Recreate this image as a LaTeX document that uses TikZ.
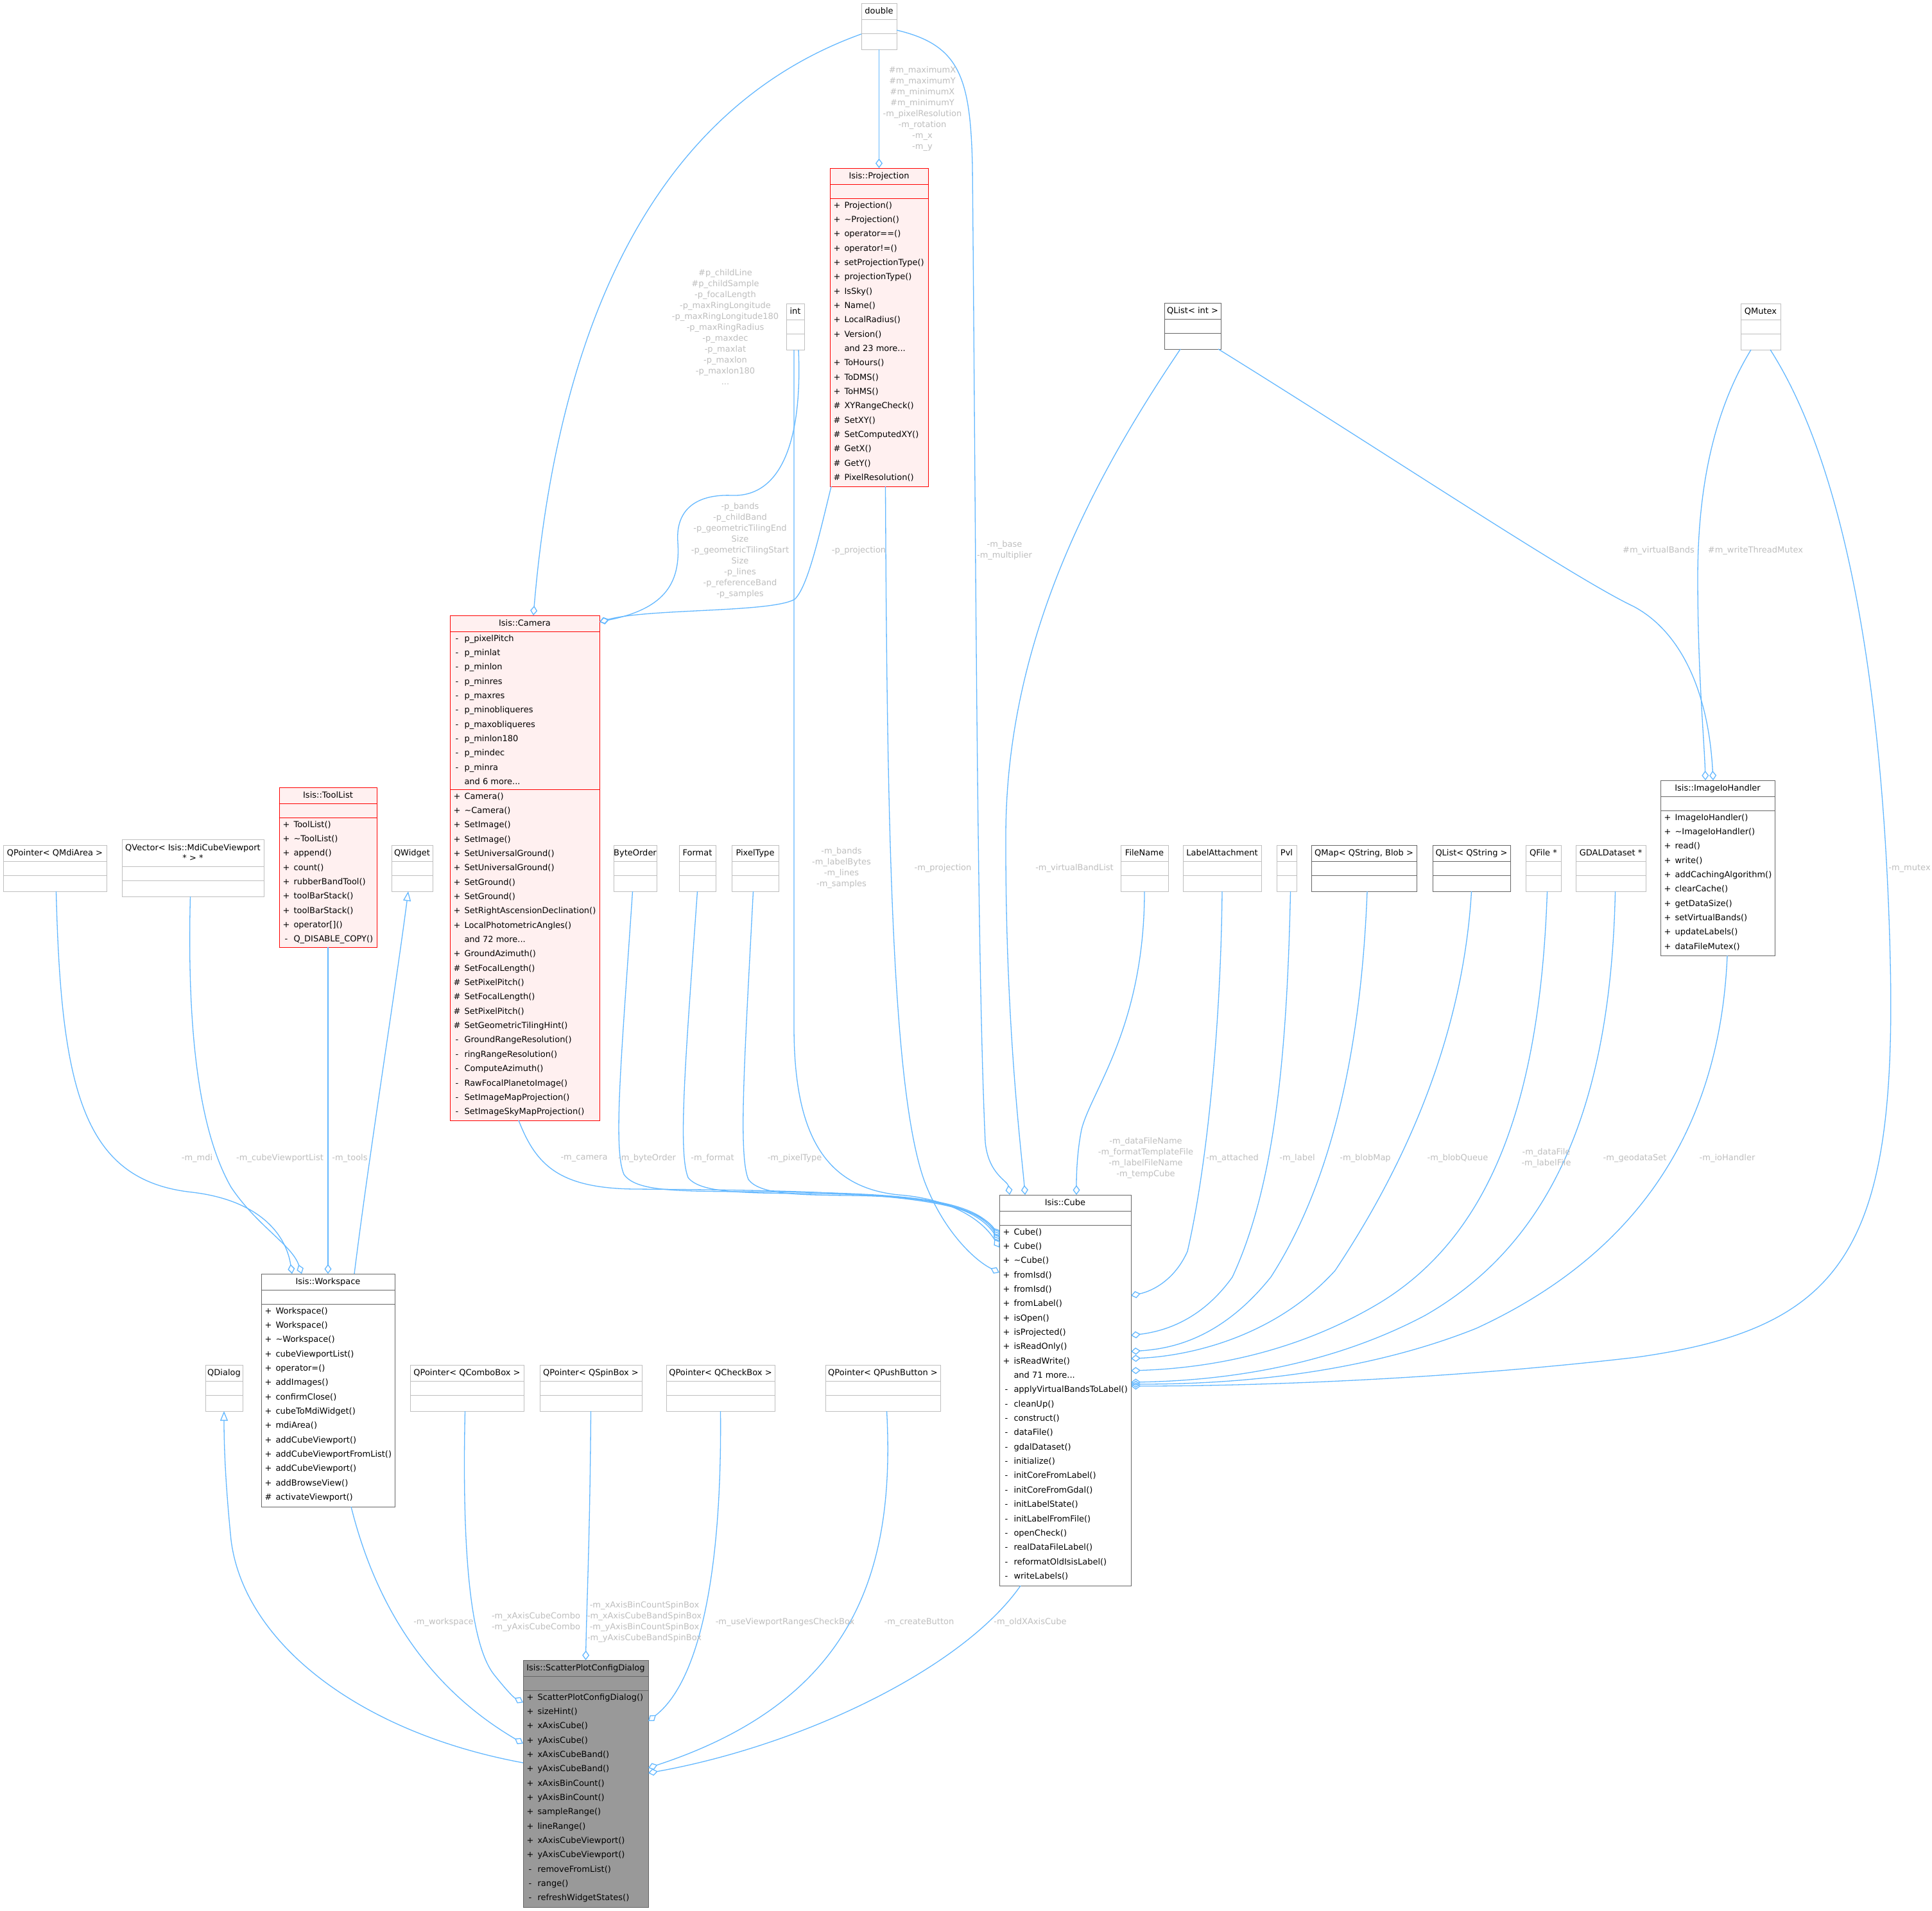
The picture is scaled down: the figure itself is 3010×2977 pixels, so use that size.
\documentclass[tikz,border=0pt]{standalone}
\usepackage{fontspec}
\setmainfont{DejaVu Sans}
\usetikzlibrary{arrows.meta,fit,calc}
\definecolor{edgeblue}{HTML}{63B8FF}
\definecolor{lightgr}{HTML}{BFBFBF}
\definecolor{darkgr}{HTML}{666666}
\definecolor{redfill}{HTML}{FFF0F0}
\definecolor{grayfill}{HTML}{999999}
\definecolor{labelgr}{HTML}{BEBEBE}
\newcommand\dgfont{\fontsize{13}{17}\selectfont}
\tikzset{
  boxline/.style={line width=1pt},
  txt/.style={inner sep=0pt, outer sep=0pt, font=\dgfont, text=black, text height=11pt, text depth=3pt},
  mtitle/.style={inner sep=0pt, outer sep=0pt, font=\fontsize{13}{16}\selectfont, text=black, align=center},
  lbl/.style={inner sep=0pt, font=\dgfont, text=labelgr, align=center},
  agg/.style={draw=edgeblue, line width=1.3pt, -{Diamond[open,length=15pt,width=11pt]}},
  inh/.style={draw=edgeblue, line width=1.3pt, -{Triangle[open,length=15pt,width=12pt]}},
}
\newcommand\classbox[7]{\node[fit={(#4,#5) (#6,#7)}, inner sep=0pt, outer sep=0pt, draw=#2, fill=#3, boxline] (#1) {};}
\newcommand\secline[4]{\draw[draw=#1, boxline] (#2,#4) -- (#3,#4);}
\newcommand\simplebox[6]{%
  \classbox{#1}{#2}{white}{#3}{#4}{#5}{#4+72}%
  \secline{#2}{#3}{#5}{#4+25}%
  \secline{#2}{#3}{#5}{#4+47}%
  \node[txt] (#1t) at ({(#3+#5)/2},{#4+12.5}) {#6};}
\newcommand\memrows[4]{%
  \foreach \msym/\mname [count=\mi from 0] in {#4}{%
    \node[txt] (#1s\mi) at ({#2+11},{#3+\mi*22.35}) {\msym};
    \node[txt,anchor=west] (#1n\mi) at ({#2+22.5},{#3+\mi*22.35}) {\mname};}}
\begin{document}
\begin{tikzpicture}[x=1pt,y=-1pt]
\useasboundingbox (0,0) rectangle (3010,2977);
\fill[white] (0,0) rectangle (3010,2977);

% ---------- small boxes ----------
\simplebox{double}{lightgr}{1342}{5}{1397}{double}
\simplebox{int}{lightgr}{1225}{473}{1253}{int}
\simplebox{qlistint}{darkgr}{1814}{472}{1902}{QList< int >}
\simplebox{qmutex}{lightgr}{2712}{473}{2774}{QMutex}
\simplebox{qmdi}{lightgr}{5}{1317}{166}{QPointer< QMdiArea >}
\simplebox{qwidget}{lightgr}{610}{1317}{674}{QWidget}
\simplebox{byteorder}{lightgr}{956}{1317}{1023}{ByteOrder}
\simplebox{format}{lightgr}{1058}{1317}{1115}{Format}
\simplebox{pixeltype}{lightgr}{1140}{1317}{1213}{PixelType}
\simplebox{filename}{lightgr}{1746}{1317}{1820}{FileName}
\simplebox{labelatt}{lightgr}{1843}{1317}{1965}{LabelAttachment}
\simplebox{pvl}{lightgr}{1989}{1317}{2020}{Pvl}
\simplebox{qmap}{darkgr}{2043}{1317}{2207}{QMap< QString, Blob >}
\simplebox{qliststr}{darkgr}{2232}{1317}{2353}{QList< QString >}
\simplebox{qfile}{lightgr}{2377}{1317}{2432}{QFile *}
\simplebox{gdal}{lightgr}{2455}{1317}{2564}{GDALDataset *}
\simplebox{qdialog}{lightgr}{320}{2127}{378}{QDialog}
\simplebox{qcombo}{lightgr}{639}{2127}{816}{QPointer< QComboBox >}
\simplebox{qspin}{lightgr}{841}{2127}{1000}{QPointer< QSpinBox >}
\simplebox{qcheck}{lightgr}{1038}{2127}{1207}{QPointer< QCheckBox >}
\simplebox{qpush}{lightgr}{1286}{2127}{1465}{QPointer< QPushButton >}

% QVector
\classbox{qvec}{lightgr}{white}{190}{1308}{411}{1397}
\secline{lightgr}{190}{411}{1350}
\secline{lightgr}{190}{411}{1372}
\node[mtitle] (qvect) at (300.5,1329) {QVector< Isis::MdiCubeViewport\\* > *};

% ---------- Isis::Projection ----------
\classbox{proj}{red}{redfill}{1293}{262}{1446}{758}
\secline{red}{1293}{1446}{287}
\secline{red}{1293}{1446}{309}
\node[txt] (projt) at (1369.5,274.5) {Isis::Projection};
\memrows{proj}{1293}{320}{+/Projection(), +/\textasciitilde Projection(), +/operator==(), +/operator!=(), +/setProjectionType(), +/projectionType(), +/IsSky(), +/Name(), +/LocalRadius(), +/Version(), \relax/and 23 more.{}.{}., +/ToHours(), +/ToDMS(), +/ToHMS(), \#/XYRangeCheck(), \#/SetXY(), \#/SetComputedXY(), \#/GetX(), \#/GetY(), \#/PixelResolution()}

% ---------- Isis::Camera ----------
\classbox{cam}{red}{redfill}{701}{959}{934}{1746}
\secline{red}{701}{934}{984}
\secline{red}{701}{934}{1230}
\node[txt] (camt) at (817.5,971.5) {Isis::Camera};
\memrows{cama}{701}{995}{-/p\_pixelPitch, -/p\_minlat, -/p\_minlon, -/p\_minres, -/p\_maxres, -/p\_minobliqueres, -/p\_maxobliqueres, -/p\_minlon180, -/p\_mindec, -/p\_minra, \relax/and 6 more.{}.{}.}
\memrows{camm}{701}{1241}{+/Camera(), +/\textasciitilde Camera(), +/SetImage(), +/SetImage(), +/SetUniversalGround(), +/SetUniversalGround(), +/SetGround(), +/SetGround(), +/SetRightAscensionDeclination(), +/LocalPhotometricAngles(), \relax/and 72 more.{}.{}., +/GroundAzimuth(), \#/SetFocalLength(), \#/SetPixelPitch(), \#/SetFocalLength(), \#/SetPixelPitch(), \#/SetGeometricTilingHint(), -/GroundRangeResolution(), -/ringRangeResolution(), -/ComputeAzimuth(), -/RawFocalPlanetoImage(), -/SetImageMapProjection(), -/SetImageSkyMapProjection()}

% ---------- Isis::ToolList ----------
\classbox{tools}{red}{redfill}{435}{1227}{587}{1476}
\secline{red}{435}{587}{1252}
\secline{red}{435}{587}{1274}
\node[txt] (toolst) at (511,1239.5) {Isis::ToolList};
\memrows{tools}{435}{1285}{+/ToolList(), +/\textasciitilde ToolList(), +/append(), +/count(), +/rubberBandTool(), +/toolBarStack(), +/toolBarStack(), +/operator[](), -/Q\_DISABLE\_COPY()}

% ---------- Isis::ImageIoHandler ----------
\classbox{iih}{darkgr}{white}{2587}{1216}{2765}{1489}
\secline{darkgr}{2587}{2765}{1241}
\secline{darkgr}{2587}{2765}{1263}
\node[txt] (iiht) at (2676,1228.5) {Isis::ImageIoHandler};
\memrows{iih}{2587}{1274}{+/ImageIoHandler(), +/\textasciitilde ImageIoHandler(), +/read(), +/write(), +/addCachingAlgorithm(), +/clearCache(), +/getDataSize(), +/setVirtualBands(), +/updateLabels(), +/dataFileMutex()}

% ---------- Isis::Cube ----------
\classbox{cube}{darkgr}{white}{1557}{1862}{1762}{2471}
\secline{darkgr}{1557}{1762}{1887}
\secline{darkgr}{1557}{1762}{1909}
\node[txt] (cubet) at (1659.5,1874.5) {Isis::Cube};
\memrows{cube}{1557}{1920}{+/Cube(), +/Cube(), +/\textasciitilde Cube(), +/fromIsd(), +/fromIsd(), +/fromLabel(), +/isOpen(), +/isProjected(), +/isReadOnly(), +/isReadWrite(), \relax/and 71 more.{}.{}., -/applyVirtualBandsToLabel(), -/cleanUp(), -/construct(), -/dataFile(), -/gdalDataset(), -/initialize(), -/initCoreFromLabel(), -/initCoreFromGdal(), -/initLabelState(), -/initLabelFromFile(), -/openCheck(), -/realDataFileLabel(), -/reformatOldIsisLabel(), -/writeLabels()}

% ---------- Isis::Workspace ----------
\classbox{ws}{darkgr}{white}{407}{1985}{615}{2348}
\secline{darkgr}{407}{615}{2010}
\secline{darkgr}{407}{615}{2032}
\node[txt] (wst) at (511,1997.5) {Isis::Workspace};
\memrows{ws}{407}{2043}{+/Workspace(), +/Workspace(), +/\textasciitilde Workspace(), +/cubeViewportList(), +/operator=(), +/addImages(), +/confirmClose(), +/cubeToMdiWidget(), +/mdiArea(), +/addCubeViewport(), +/addCubeViewportFromList(), +/addCubeViewport(), +/addBrowseView(), \#/activateViewport()}

% ---------- Isis::ScatterPlotConfigDialog ----------
\classbox{scat}{darkgr}{grayfill}{815}{2587}{1010}{2972}
\secline{darkgr}{815}{1010}{2612}
\secline{darkgr}{815}{1010}{2634}
\node[txt] (scatt) at (912.5,2599.5) {Isis::ScatterPlotConfigDialog};
\memrows{scat}{815}{2645}{+/ScatterPlotConfigDialog(), +/sizeHint(), +/xAxisCube(), +/yAxisCube(), +/xAxisCubeBand(), +/yAxisCubeBand(), +/xAxisBinCount(), +/yAxisBinCount(), +/sampleRange(), +/lineRange(), +/xAxisCubeViewport(), +/yAxisCubeViewport(), -/removeFromList(), -/range(), -/refreshWidgetStates()}

% ---------- edges: top part ----------
\draw[agg] (double.south) -- (proj.north);
\draw[agg] ($(double.north west)+(0,48)$) .. controls (1100,140) and (880,380) .. ($(cam.north west)+(130,0)$);
\draw[agg] ($(int.south)+(5,0)$) .. controls (1250,680) and (1220,775) .. (1140,772) .. controls (1090,770) and (1052,790) .. (1056,845) .. controls (1060,905) and (1040,948) .. ($(cam.north east)+(0,10)$);
\draw[agg] ($(proj.south west)+(2,0)$) .. controls (1275,840) and (1258,915) .. (1238,934) .. controls (1200,955) and (1010,948) .. ($(cam.north east)+(0,10)$);
\draw[agg] ($(proj.south)+(10,0)$) .. controls (1382,1300) and (1390,1700) .. (1440,1840) .. controls (1470,1920) and (1520,1965) .. ($(cube.north west)+(0,121)$);
\draw[agg] ($(int.south)+(-2,0)$) -- (1237,1600) .. controls (1237,1760) and (1280,1850) .. (1400,1862) .. controls (1480,1868) and (1530,1900) .. ($(cube.north west)+(0,82)$);
\draw[agg] ($(cam.south west)+(107,0)$) .. controls (835,1815) and (870,1852) .. (990,1853) .. controls (1300,1855) and (1510,1860) .. ($(cube.north west)+(0,64)$);
\draw[agg] ($(byteorder.south)+(-4,0)$) .. controls (968,1650) and (955,1790) .. (972,1830) .. controls (990,1856) and (1050,1856) .. (1150,1857) .. controls (1400,1858) and (1515,1866) .. ($(cube.north west)+(0,66)$);
\draw[agg] (format.south) .. controls (1068,1650) and (1056,1795) .. (1072,1835) .. controls (1090,1858) and (1150,1859) .. (1250,1860) .. controls (1420,1861) and (1518,1872) .. ($(cube.north west)+(0,69)$);
\draw[agg] ($(pixeltype.south)+(-3,0)$) .. controls (1160,1650) and (1150,1800) .. (1166,1838) .. controls (1183,1861) and (1240,1862) .. (1320,1863) .. controls (1450,1864) and (1520,1880) .. ($(cube.north west)+(0,72)$);
\draw[agg] ($(double.north east)+(0,42)$) .. controls (1495,70) and (1512,120) .. (1515,260) .. controls (1520,800) and (1522,1500) .. (1535,1780) .. controls (1540,1830) and (1570,1840) .. ($(cube.north west)+(16,0)$);
\draw[agg] ($(qlistint.south)+(-19,0)$) .. controls (1700,750) and (1568,1000) .. (1567,1300) .. controls (1566,1600) and (1592,1800) .. ($(cube.north west)+(40,0)$);
\draw[agg] (filename.south) .. controls (1783,1600) and (1700,1700) .. (1685,1760) .. controls (1677,1800) and (1677,1840) .. ($(cube.north west)+(120,0)$);
\draw[agg] ($(qlistint.south east)+(-4,0)$) .. controls (2150,700) and (2450,900) .. (2545,945) .. controls (2620,985) and (2662,1080) .. ($(iih.north west)+(82,0)$);
\draw[agg] ($(qmutex.south)+(-15,0)$) .. controls (2670,640) and (2645,760) .. (2645,900) .. controls (2645,1050) and (2655,1150) .. ($(iih.north west)+(70,0)$);
\draw[agg] ($(qmutex.south)+(15,0)$) .. controls (2870,720) and (2935,1050) .. (2945,1500) .. controls (2955,1950) and (2870,2070) .. (2550,2115) .. controls (2250,2150) and (1950,2160) .. ($(cube.north east)+(0,298)$);
\draw[agg] ($(iih.south)+(15,0)$) .. controls (2680,1750) and (2560,1950) .. (2300,2070) .. controls (2100,2150) and (1880,2157) .. ($(cube.north east)+(0,295)$);
\draw[agg] ($(gdal.south)+(7,0)$) .. controls (2510,1700) and (2430,1930) .. (2220,2050) .. controls (2050,2140) and (1870,2152) .. ($(cube.north east)+(0,292)$);
\draw[agg] ($(qfile.south)+(6,0)$) .. controls (2400,1700) and (2330,1920) .. (2150,2030) .. controls (2000,2120) and (1850,2133) .. ($(cube.north east)+(0,274)$);
\draw[agg] (qliststr.south) .. controls (2280,1600) and (2200,1800) .. (2080,1980) .. controls (1980,2090) and (1840,2114) .. ($(cube.north east)+(0,255)$);
\draw[agg] ($(qmap.south)+(5,0)$) .. controls (2120,1650) and (2070,1850) .. (1980,1990) .. controls (1900,2090) and (1820,2102) .. ($(cube.north east)+(0,244)$);
\draw[agg] ($(pvl.south)+(6,0)$) .. controls (2005,1650) and (1985,1850) .. (1920,1990) .. controls (1870,2060) and (1810,2075) .. ($(cube.north east)+(0,219)$);
\draw[agg] (labelatt.south) .. controls (1902,1600) and (1880,1820) .. (1850,1950) .. controls (1830,1995) and (1795,2012) .. ($(cube.north east)+(0,157)$);

% ---------- edges: workspace ----------
\draw[agg] ($(qmdi.south)+(2,0)$) .. controls (95,1700) and (130,1840) .. (300,1858) .. controls (400,1870) and (445,1920) .. ($(ws.north west)+(48,0)$);
\draw[agg] ($(qvec.south)+(-4,0)$) .. controls (290,1650) and (320,1780) .. (360,1850) .. controls (400,1910) and (455,1940) .. ($(ws.north west)+(63,0)$);
\draw[agg] (tools.south) -- ($(ws.north west)+(104,0)$);
\draw[inh] ($(ws.north west)+(145,0)$) .. controls (575,1800) and (615,1550) .. ($(qwidget.south)+(-6,0)$);

% ---------- edges: scatter dialog ----------
\draw[inh] ($(scat.north west)+(0,160)$) .. controls (560,2700) and (380,2560) .. (360,2400) .. controls (352,2320) and (349,2260) .. (qdialog.south);
\draw[agg] ($(ws.south)+(36,0)$) .. controls (580,2480) and (650,2620) .. ($(scat.north west)+(0,130)$);
\draw[agg] ($(qcombo.south)+(-3,0)$) .. controls (720,2400) and (730,2560) .. (770,2610) .. controls (790,2635) and (800,2645) .. ($(scat.north west)+(0,66)$);
\draw[agg] (qspin.south) .. controls (919,2400) and (914,2500) .. (scat.north);
\draw[agg] (qcheck.south) .. controls (1125,2450) and (1090,2620) .. ($(scat.north east)+(0,95)$);
\draw[agg] ($(qpush.south)+(6,0)$) .. controls (1395,2450) and (1330,2650) .. ($(scat.north east)+(0,168)$);
\draw[agg] ($(cube.south west)+(33,0)$) .. controls (1500,2600) and (1250,2720) .. ($(scat.north east)+(0,176)$);

% ---------- edge labels ----------
\node[lbl] (lb1) at (1437,169.5) {\#m\_maximumX\\\#m\_maximumY\\\#m\_minimumX\\\#m\_minimumY\\-m\_pixelResolution\\-m\_rotation\\-m\_x\\-m\_y};
\node[lbl] (lb2) at (1130,510) {\#p\_childLine\\\#p\_childSample\\-p\_focalLength\\-p\_maxRingLongitude\\-p\_maxRingLongitude180\\-p\_maxRingRadius\\-p\_maxdec\\-p\_maxlat\\-p\_maxlon\\-p\_maxlon180\\...};
\node[lbl] (lb3) at (1153,858.5) {-p\_bands\\-p\_childBand\\-p\_geometricTilingEnd\\Size\\-p\_geometricTilingStart\\Size\\-p\_lines\\-p\_referenceBand\\-p\_samples};
\node[lbl] (lb4) at (1338,858) {-p\_projection};
\node[lbl] (lb5) at (1565,858) {-m\_base\\-m\_multiplier};
\node[lbl] (lb6) at (2584,858) {\#m\_virtualBands};
\node[lbl] (lb7) at (2735,858) {\#m\_writeThreadMutex};
\node[lbl] (lb8) at (1311,1353) {-m\_bands\\-m\_labelBytes\\-m\_lines\\-m\_samples};
\node[lbl] (lb9) at (1469,1353) {-m\_projection};
\node[lbl] (lb10) at (1674,1353) {-m\_virtualBandList};
\node[lbl] (lb11) at (2975,1353) {-m\_mutex};
\node[lbl] (lb12) at (307,1805) {-m\_mdi};
\node[lbl] (lb13) at (436,1805) {-m\_cubeViewportList};
\node[lbl] (lb14) at (545,1805) {-m\_tools};
\node[lbl] (lb15) at (910,1805) {-m\_camera};
\node[lbl] (lb16) at (1008,1805) {-m\_byteOrder};
\node[lbl] (lb17) at (1110,1805) {-m\_format};
\node[lbl] (lb18) at (1238,1805) {-m\_pixelType};
\node[lbl] (lb19) at (1785,1805) {-m\_dataFileName\\-m\_formatTemplateFile\\-m\_labelFileName\\-m\_tempCube};
\node[lbl] (lb20) at (1920,1805) {-m\_attached};
\node[lbl] (lb21) at (2021,1805) {-m\_label};
\node[lbl] (lb22) at (2127,1805) {-m\_blobMap};
\node[lbl] (lb23) at (2271,1805) {-m\_blobQueue};
\node[lbl] (lb24) at (2409,1805) {-m\_dataFile\\-m\_labelFile};
\node[lbl] (lb25) at (2547,1805) {-m\_geodataSet};
\node[lbl] (lb26) at (2691,1805) {-m\_ioHandler};
\node[lbl] (lb27) at (691,2528) {-m\_workspace};
\node[lbl] (lb28) at (835,2528) {-m\_xAxisCubeCombo\\-m\_yAxisCubeCombo};
\node[lbl] (lb29) at (1004,2528) {-m\_xAxisBinCountSpinBox\\-m\_xAxisCubeBandSpinBox\\-m\_yAxisBinCountSpinBox\\-m\_yAxisCubeBandSpinBox};
\node[lbl] (lb30) at (1223,2528) {-m\_useViewportRangesCheckBox};
\node[lbl] (lb31) at (1432,2528) {-m\_createButton};
\node[lbl] (lb32) at (1605,2528) {-m\_oldXAxisCube};
\end{tikzpicture}
\end{document}
